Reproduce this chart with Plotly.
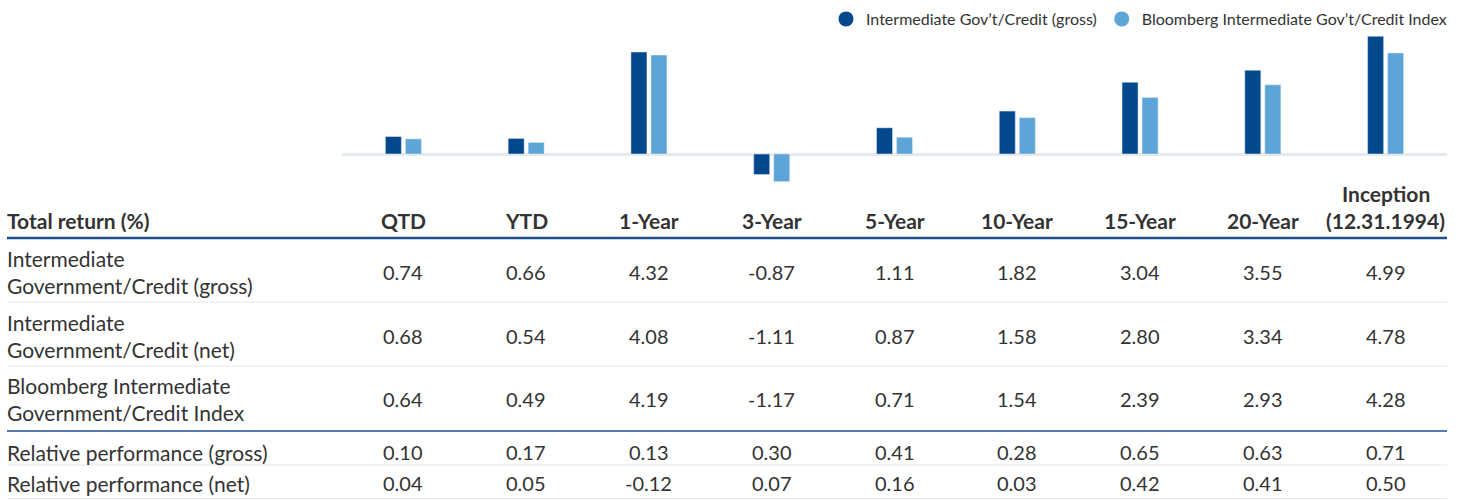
import plotly.graph_objects as go

W, H = 1463, 500

categories = ["QTD", "YTD", "1-Year", "3-Year", "5-Year", "10-Year", "15-Year", "20-Year", "Inception"]
header_top = ["", "", "", "", "", "", "", "", "Inception"]
header_labels = ["QTD", "YTD", "1-Year", "3-Year", "5-Year", "10-Year", "15-Year", "20-Year", "(12.31.1994)"]

gross = [0.74, 0.66, 4.32, -0.87, 1.11, 1.82, 3.04, 3.55, 4.99]
net = [0.68, 0.54, 4.08, -1.11, 0.87, 1.58, 2.80, 3.34, 4.78]
index = [0.64, 0.49, 4.19, -1.17, 0.71, 1.54, 2.39, 2.93, 4.28]
rel_gross = ["0.10", "0.17", "0.13", "0.30", "0.41", "0.28", "0.65", "0.63", "0.71"]
rel_net = ["0.04", "0.05", "-0.12", "0.07", "0.16", "0.03", "0.42", "0.41", "0.50"]

series_names = ["Intermediate Gov’t/Credit (gross)", "Bloomberg Intermediate Gov’t/Credit Index"]
row_labels = [
    ["Intermediate", "Government/Credit (gross)"],
    ["Intermediate", "Government/Credit (net)"],
    ["Bloomberg Intermediate", "Government/Credit Index"],
    ["Relative performance (gross)"],
    ["Relative performance (net)"],
]

DARK = "#03478c"
LIGHT = "#5ca5d6"
TEXT = "#333333"
FONT = "Lato"

def px(x):
    return x / W

def py(y):
    return 1 - y / H

# plot area
X0, X1 = 342, 1447
Y0, Y1 = 30, 190
colw = (X1 - X0) / len(categories)
centers = [X0 + (i + 0.5) * colw for i in range(len(categories))]

fig = go.Figure()
fig.add_trace(go.Bar(x=categories, y=gross, marker_color=DARK, name=series_names[0], showlegend=False, hoverinfo="y"))
fig.add_trace(go.Bar(x=categories, y=index, marker_color=LIGHT, name=series_names[1], showlegend=False, hoverinfo="y"))
# legend entries with circle markers
for nm, c in zip(series_names, [DARK, LIGHT]):
    fig.add_trace(go.Scatter(x=[None], y=[None], mode="markers", name=nm,
                             marker=dict(symbol="circle", size=15, color=c)))

fig.update_layout(
    width=W, height=H,
    margin=dict(l=0, r=0, t=0, b=0),
    paper_bgcolor="white", plot_bgcolor="white",
    font=dict(family=FONT, color=TEXT),
    barmode="group", bargap=0.674, bargroupgap=0.2,
    showlegend=True,
    legend=dict(orientation="h", x=px(1452), xanchor="right", y=py(2), yanchor="top",
                font=dict(size=16, color=TEXT, family=FONT), itemwidth=30,
                bgcolor="rgba(0,0,0,0)", traceorder="normal"),
    xaxis=dict(domain=[px(X0), px(X1)], showticklabels=False, showgrid=False,
               zeroline=False, showline=False, fixedrange=True),
    yaxis=dict(domain=[py(Y1), py(Y0)], range=[-1.525, 5.254], showticklabels=False,
               showgrid=False, zeroline=True, zerolinecolor="#e4eaed", zerolinewidth=3,
               showline=False, fixedrange=True),
)

ann = []
def text(x, y, t, size=21, bold=False, align="center"):
    xanchor = {"center": "center", "left": "left", "right": "right"}[align]
    ann.append(dict(xref="paper", yref="paper", x=px(x), y=py(y), text=(f"<b>{t}</b>" if bold else t),
                    showarrow=False, xanchor=xanchor, yanchor="middle",
                    font=dict(family=FONT, size=size, color=TEXT)))

# header
HY = 221
text(5, HY, "Total return (%)", bold=True, align="left")
for c, top, lab in zip(centers, header_top, header_labels):
    text(c, HY, lab, bold=True)
    if top:
        text(c, 193, top, bold=True)

# rows
row_vals = [[f"{v:.2f}" for v in gross], [f"{v:.2f}" for v in net], [f"{v:.2f}" for v in index], rel_gross, rel_net]
row_centers = [272, 336, 399, 452, 483]
for lab, vals, yc in zip(row_labels, row_vals, row_centers):
    if len(lab) == 2:
        text(5, yc - 13.5, lab[0], align="left")
        text(5, yc + 13.5, lab[1], align="left")
    else:
        text(5, yc, lab[0], align="left")
    for c, v in zip(centers, vals):
        text(c, yc, v, size=20)

fig.update_layout(annotations=ann)

shapes = []
def hline(y, color, w):
    shapes.append(dict(type="line", xref="paper", yref="paper", x0=px(7), x1=px(1447),
                       y0=py(y), y1=py(y), line=dict(color=color, width=w)))

hline(238, "#1d4f8e", 2.5)
hline(302, "#e2e9ec", 1.2)
hline(366, "#e2e9ec", 1.2)
hline(431, "#1d4f8e", 1.5)
hline(465, "#e2e9ec", 1.2)
hline(498.5, "#e2e9ec", 1.2)
fig.update_layout(shapes=shapes)

fig.write_html("out.html", config={"displayModeBar": False},
               post_script="document.body.style.margin='0px';")
